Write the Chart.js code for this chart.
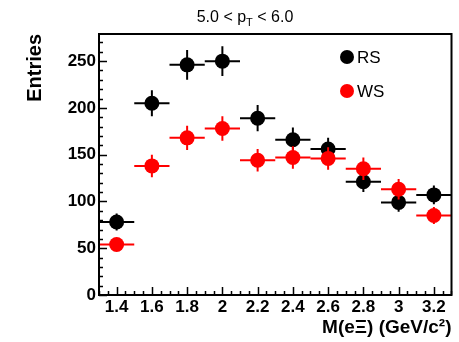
<!DOCTYPE html>
<html>
<head>
<meta charset="utf-8">
<script src="https://cdn.jsdelivr.net/npm/chart.js@4"></script>
<style>
  html, body { margin: 0; padding: 0; background: #fff; }
  #wrap { width: 459px; height: 342px; }
</style>
</head>
<body>
<div id="wrap"><canvas id="massChart" width="459" height="342"></canvas></div>
<script>
// bin centres of M(eXi) and tick labels
const binCenters = [1.4, 1.6, 1.8, 2.0, 2.2, 2.4, 2.6, 2.8, 3.0, 3.2];
const binHalfWidth = 0.1;
const xTicks = [1.4, 1.6, 1.8, 2.0, 2.2, 2.4, 2.6, 2.8, 3.0, 3.2];
const yTicks = [0, 50, 100, 150, 200, 250];

// right-sign / wrong-sign entries with their errors
const rsEntries = [78, 205, 246, 250, 189, 166, 156, 121, 99, 107];
const rsErrors  = [9, 14, 16, 16, 14, 13, 12, 11, 10, 10];
const wsEntries = [54, 138, 168, 178, 144, 147, 146, 135, 113, 85];
const wsErrors  = [7, 12, 13, 13, 12, 12, 12, 12, 11, 9];

const FONT = "'Liberation Sans', Arial, Helvetica, sans-serif";

const toPoints = (ys, errs) => binCenters.map((x, i) => ({ x: x, y: ys[i], err: errs[i] }));

const errorBars = {
    id: 'errorBars',
    beforeDatasetDraw(chart, args) {
        const ds = chart.data.datasets[args.index];
        const { ctx, chartArea, scales: { x, y } } = chart;
        ctx.save();
        ctx.beginPath();
        ctx.rect(chartArea.left, chartArea.top, chartArea.right - chartArea.left, chartArea.bottom - chartArea.top);
        ctx.clip();
        ctx.strokeStyle = ds.backgroundColor;
        ctx.lineWidth = 2;
        ds.data.forEach(p => {
            const px = x.getPixelForValue(p.x);
            const py = y.getPixelForValue(p.y);
            ctx.beginPath();
            ctx.moveTo(x.getPixelForValue(p.x - binHalfWidth), py);
            ctx.lineTo(x.getPixelForValue(p.x + binHalfWidth), py);
            ctx.moveTo(px, y.getPixelForValue(p.y - p.err));
            ctx.lineTo(px, y.getPixelForValue(p.y + p.err));
            ctx.stroke();
        });
        ctx.restore();
    }
};

const frameAndExtras = {
    id: 'frameAndExtras',
    afterDraw(chart) {
        const { ctx, chartArea: a, scales: { x, y } } = chart;
        ctx.save();
        ctx.strokeStyle = '#000';
        ctx.lineWidth = 2;
        ctx.strokeRect(a.left, a.top, a.right - a.left, a.bottom - a.top);

        // ticks pointing inwards, ROOT style
        ctx.lineWidth = 1.5;
        ctx.beginPath();
        for (let v = 1.3; v <= 3.3001; v += 0.05) {
            const px = Math.round(x.getPixelForValue(v)) + 0.5;
            const major = xTicks.some(t => Math.abs(t - v) < 1e-6);
            ctx.moveTo(px, a.bottom);
            ctx.lineTo(px, a.bottom - (major ? 8 : 4));
        }
        for (let v = 0; v <= y.max; v += 10) {
            const py = Math.round(y.getPixelForValue(v)) + 0.5;
            const major = v % 50 === 0;
            ctx.moveTo(a.left, py);
            ctx.lineTo(a.left + (major ? 8 : 4), py);
        }
        ctx.stroke();

        // title with subscript
        ctx.fillStyle = '#000';
        ctx.textBaseline = 'alphabetic';
        const big = '16px ' + FONT, small = '11px ' + FONT;
        const p1 = '5.0 < p', sub = 'T', p2 = ' < 6.0';
        ctx.font = big;
        const w1 = ctx.measureText(p1).width, w3 = ctx.measureText(p2).width;
        ctx.font = small;
        const w2 = ctx.measureText(sub).width;
        let tx = 245 - (w1 + w2 + w3) / 2;
        ctx.font = big;
        ctx.fillText(p1, tx, 22);
        ctx.font = small;
        ctx.fillText(sub, tx + w1, 26);
        ctx.font = big;
        ctx.fillText(p2, tx + w1 + w2, 22);

        // legend
        const rows = [57, 91];
        chart.data.datasets.forEach((ds, i) => {
            ctx.fillStyle = ds.backgroundColor;
            ctx.beginPath();
            ctx.arc(347, rows[i], 7, 0, Math.PI * 2);
            ctx.fill();
            ctx.fillStyle = '#000';
            ctx.font = '17px ' + FONT;
            ctx.textBaseline = 'middle';
            ctx.fillText(ds.label, 357, rows[i] + 1);
        });
        ctx.restore();
    }
};

new Chart(document.getElementById('massChart'), {
    type: 'scatter',
    data: {
        datasets: [{
            label: 'RS',
            data: toPoints(rsEntries, rsErrors),
            backgroundColor: '#000000',
            borderColor: '#000000',
            pointRadius: 7.5,
            pointBorderWidth: 0,
            order: 1
        }, {
            label: 'WS',
            data: toPoints(wsEntries, wsErrors),
            backgroundColor: '#ff0000',
            borderColor: '#ff0000',
            pointRadius: 7.5,
            pointBorderWidth: 0,
            order: 0
        }]
    },
    options: {
        responsive: false,
        animation: false,
        devicePixelRatio: 1,
        layout: { padding: { left: 0, right: 5, top: 34, bottom: 0 } },
        plugins: {
            legend: { display: false },
            title: { display: false },
            tooltip: { enabled: false }
        },
        scales: {
            x: {
                type: 'linear',
                min: 1.3,
                max: 3.3,
                afterFit: s => { s.height = 47; },
                afterBuildTicks: s => { s.ticks = xTicks.map(v => ({ value: v })); },
                grid: { display: false, drawTicks: false },
                border: { display: false },
                ticks: {
                    padding: 2,
                    color: '#000',
                    maxRotation: 0,
                    autoSkip: false,
                    font: { family: FONT, size: 17, weight: 'bold' },
                    callback: v => String(Math.round(v * 10) / 10)
                },
                title: {
                    display: true,
                    text: 'M(eΞ) (GeV/c²)',
                    align: 'end',
                    color: '#000',
                    padding: { top: 0, bottom: 3 },
                    font: { family: FONT, size: 19, weight: 'bold' }
                }
            },
            y: {
                min: 0,
                max: 279,
                afterFit: s => { s.width = 99; },
                afterBuildTicks: s => { s.ticks = yTicks.map(v => ({ value: v })); },
                grid: { display: false, drawTicks: false },
                border: { display: false },
                ticks: {
                    padding: 3,
                    color: '#000',
                    font: { family: FONT, size: 17, weight: 'bold' }
                },
                title: {
                    display: true,
                    text: 'Entries',
                    align: 'end',
                    color: '#000',
                    padding: { top: 23, bottom: 0 },
                    font: { family: FONT, size: 20, weight: 'bold' }
                }
            }
        }
    },
    plugins: [errorBars, frameAndExtras]
});
</script>
</body>
</html>
